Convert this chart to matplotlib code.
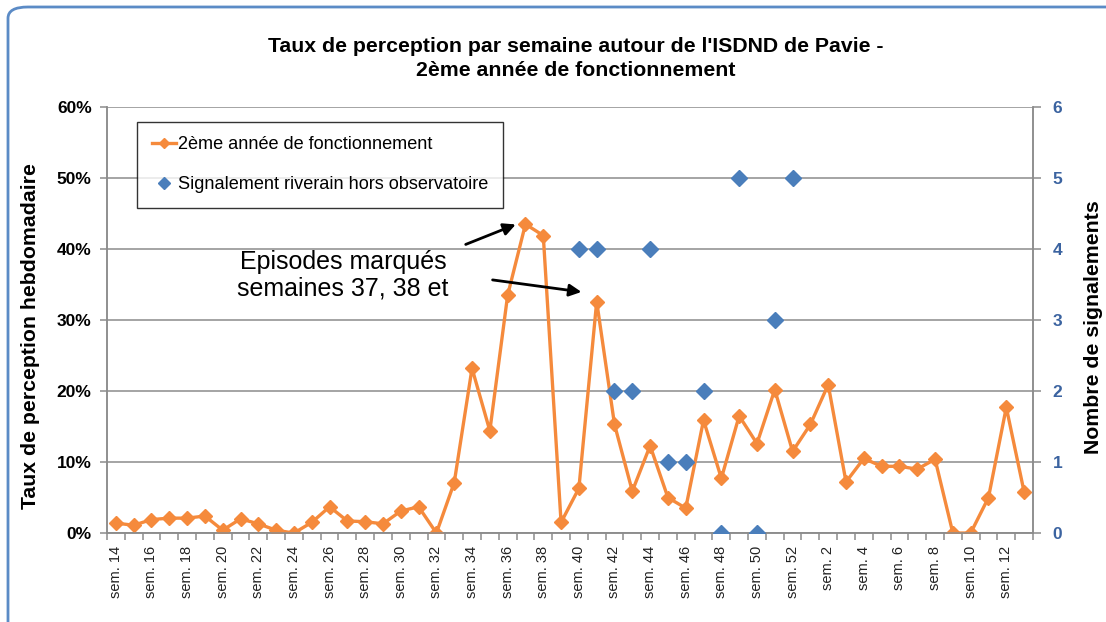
import matplotlib.pyplot as plt
import numpy as np
from matplotlib.patches import FancyBboxPatch
from matplotlib.ticker import FuncFormatter

plt.rcParams['font.family'] = ['Liberation Sans', 'DejaVu Sans']

# Semaines (de la semaine 14 à la semaine 13 de l'année suivante)
semaines = [f"sem. {s}" for s in list(range(14, 53)) + list(range(1, 14))]

# Taux de perception hebdomadaire (%)
taux = [1.4, 1.1, 1.9, 2.1, 2.1, 2.4, 0.4, 2.0, 1.3, 0.4,
        0.0, 1.5, 3.7, 1.7, 1.6, 1.3, 3.1, 3.7, 0.0, 7.1,
        23.2, 14.4, 33.5, 43.5, 41.9, 1.5, 6.3, 32.6, 15.3, 5.9,
        12.3, 5.0, 3.5, 15.9, 7.7, 16.5, 12.6, 20.2, 11.5, 15.3,
        20.9, 7.2, 10.5, 9.4, 9.4, 9.0, 10.4, 0.0, 0.0, 5.0,
        17.7, 5.8]

# Signalements riverains hors observatoire (semaines 40 à 52)
signalements = [np.nan] * 26 + [4, 4, 2, 2, 4, 1, 1, 2, 0, 5, 0, 3, 5] + [np.nan] * 13

orange = '#F58A3C'
bleu = '#4A7EBB'
gris = '#8C8C8C'

x = np.arange(len(semaines))

fig = plt.figure(figsize=(11.06, 6.22), dpi=100)
ax = fig.add_axes([0.0967, 0.143, 0.8373, 0.685])
ax2 = ax.twinx()

ax.plot(x, np.array(taux) / 100, color=orange, lw=2.4, marker='D', ms=7,
        label="2ème année de fonctionnement", zorder=3)
ax2.plot(x, signalements, ls='none', color=bleu, marker='D', ms=8.5,
         label="Signalement riverain hors observatoire", zorder=3)

ax.set_xlim(-0.5, len(semaines) - 0.5)
ax.set_ylim(0, 0.6)
ax2.set_ylim(0, 6)
ax.set_yticks(np.arange(0, 0.61, 0.1))
ax2.set_yticks(range(0, 7))
ax.yaxis.set_major_formatter(FuncFormatter(lambda v, p: f"{v * 100:.0f}%"))
ax.yaxis.grid(True, color=gris, lw=1.1)
ax.set_axisbelow(True)

# graduations entre les catégories, étiquettes une semaine sur deux
ax.set_xticks(x[::2])
ax.set_xticklabels(semaines[::2], rotation=90, fontsize=10.5, color='#222222')
ax.set_xticks(np.arange(-0.5, len(semaines), 1), minor=True)
ax.tick_params(axis='x', which='major', length=0, pad=9)
ax.tick_params(axis='x', which='minor', length=5, color=gris, width=1.1)
ax.tick_params(axis='y', length=5, color=gris, width=1.1, labelsize=12.5, pad=6)
ax2.tick_params(axis='y', length=6, color=gris, width=1.1, labelsize=12.5,
                labelcolor='#3B63A0', pad=8)
for t in ax.get_yticklabels():
    t.set_fontweight('bold')
for t in ax2.get_yticklabels():
    t.set_fontweight('bold')

for a in (ax, ax2):
    a.spines['top'].set_visible(False)
    a.spines['left'].set_color(gris)
    a.spines['right'].set_color(gris)
    a.spines['bottom'].set_color(gris)
    a.spines['left'].set_linewidth(1.1)
    a.spines['right'].set_linewidth(1.1)
    a.spines['bottom'].set_linewidth(1.1)

ax.set_ylabel("Taux de perception hebdomadaire", fontsize=15.3, fontweight='bold', labelpad=12)
ax2.set_ylabel("Nombre de signalements", fontsize=15.3, fontweight='bold', labelpad=16, rotation=90)
ax.yaxis.label.set_y(0.462)
ax2.yaxis.label.set_y(0.484)

fig.text(0.521, 0.925, "Taux de perception par semaine autour de l'ISDND de Pavie -",
         ha='center', va='center', fontsize=15.3, fontweight='bold')
fig.text(0.521, 0.887, "2ème année de fonctionnement",
         ha='center', va='center', fontsize=15.3, fontweight='bold')

# légende
h1, l1 = ax.get_legend_handles_labels()
h2, l2 = ax2.get_legend_handles_labels()
leg = ax2.legend(h1 + h2, l1 + l2, loc='upper left', bbox_to_anchor=(0.0324, 0.965),
                 fontsize=13.1, frameon=True, fancybox=False, edgecolor='black',
                 handlelength=1.35, handletextpad=0.1, labelspacing=1.25,
                 borderpad=0.8, borderaxespad=0, markerscale=0.75)
leg.get_frame().set_linewidth(1.0)

# annotation
ax.text(12.75, 0.363, "Episodes marqués\nsemaines 37, 38 et", ha='center', va='center',
        fontsize=18, linespacing=1.15)
ax.annotate("", xy=(22.6, 0.436), xytext=(19.5, 0.405),
            arrowprops=dict(arrowstyle='-|>', color='black', lw=2, mutation_scale=18))
ax.annotate("", xy=(26.3, 0.339), xytext=(21.0, 0.357),
            arrowprops=dict(arrowstyle='-|>', color='black', lw=2, mutation_scale=18))

# cadre arrondi autour du graphique
cadre = FancyBboxPatch((8 / 1106, -0.02), 1.1, 1.0 - 7 / 622 + 0.02,
                       boxstyle="round,pad=0,rounding_size=0.018",
                       transform=fig.transFigure, fill=False,
                       edgecolor='#5B8BC6', lw=2, clip_on=False)
fig.patches.append(cadre)

plt.savefig("out.png", dpi=100)
